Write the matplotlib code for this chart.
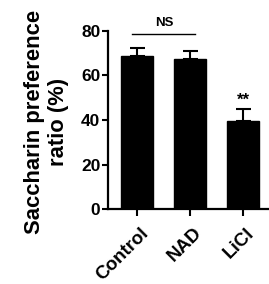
import matplotlib
matplotlib.use("Agg")
import matplotlib.pyplot as plt
from matplotlib.transforms import ScaledTranslation

categories = ["Control", "NAD", "LiCl"]
values = [68.8, 67.2, 39.7]
errors = [3.4, 3.6, 5.1]
yticks = [0, 20, 40, 60, 80]

plt.rcParams['font.family'] = ['Liberation Sans', 'DejaVu Sans']
plt.rcParams['font.weight'] = 'bold'

fig = plt.figure(figsize=(2.69, 2.84), dpi=100)
ax = fig.add_axes([0.4015, 0.264, 0.62, 0.627])

x = list(range(len(categories)))
ax.bar(x, values, width=0.6, color='black', edgecolor='black', zorder=2)
ax.errorbar(x, values, yerr=[[0]*len(errors), errors], fmt='none', ecolor='black',
            elinewidth=1.5, capsize=5.4, capthick=1.5, zorder=1)

ax.set_xlim(-0.55, 2.6)
ax.set_ylim(0, 80)
ax.set_yticks(yticks)
ax.set_xticks(x)
ax.set_xticklabels(categories, rotation=45, ha='right', rotation_mode='anchor', fontsize=13.5, fontweight='bold')
ax.tick_params(axis='y', labelsize=12.5, width=1.5, length=4.5, pad=1)
ax.tick_params(axis='x', width=1.5, length=5, pad=6)
offset = ScaledTranslation(3 / 100, 0, fig.dpi_scale_trans)
for lab in ax.get_xticklabels():
    lab.set_transform(lab.get_transform() + offset)
for lab in ax.get_yticklabels():
    lab.set_fontweight('bold')

for s in ['top', 'right']:
    ax.spines[s].set_visible(False)
for s in ['left', 'bottom']:
    ax.spines[s].set_linewidth(1.6)

# significance annotations
ax.plot([-0.09, 1.1], [78.5, 78.5], color='black', lw=1.0, clip_on=False)
ax.text(0.52, 81.0, "NS", ha='center', va='bottom', fontsize=9.5, fontweight='bold')
ax.text(2, values[2] + errors[2] + 0.5, "**", ha='center', va='bottom', fontsize=12, fontweight='bold')

fig.text(0.173, 0.572, "Saccharin preference\nratio (%)", rotation=90, ha='center', va='center',
         multialignment='center', fontsize=15.8, fontweight='bold', linespacing=1.15)

fig.savefig("out.png", dpi=100)
